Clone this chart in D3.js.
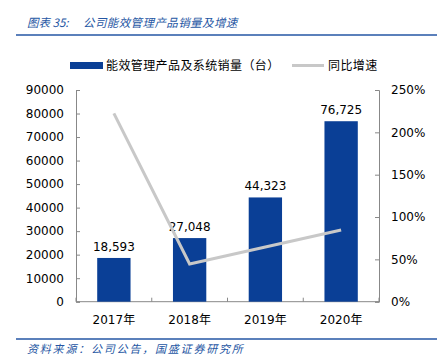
<!DOCTYPE html>
<html>
<head>
<meta charset="utf-8">
<script src="https://cdn.jsdelivr.net/npm/d3@7"></script>
<style>
  body { margin: 0; background: #fff; }
  text { font-family: "DejaVu Sans", "Noto Sans CJK SC", sans-serif; }
</style>
</head>
<body>
<div id="chart"></div>
<script>
const years = ["2017年", "2018年", "2019年", "2020年"];
const sales = [18593, 27048, 44323, 76725];
const growth = [222.4, 44.5, 64.5, 84.7];
const leftTicks = [0, 10000, 20000, 30000, 40000, 50000, 60000, 70000, 80000, 90000];
const rightTicks = [0, 50, 100, 150, 200, 250];

const width = 444, height = 363;
const margin = { top: 90, right: 65, bottom: 62, left: 76 };
const blue = "#0a3f96";
const titleBlue = "#2556a3";
const cjk = '"Noto Sans CJK SC", sans-serif';

const svg = d3.select("#chart").append("svg")
  .attr("width", width)
  .attr("height", height);

// title + rules
const title = svg.append("text")
  .attr("y", 27)
  .style("font-family", cjk)
  .style("font-style", "italic")
  .style("font-size", "11.5px")
  .attr("fill", titleBlue);
title.append("tspan").attr("x", 27).text("图表 35:");
title.append("tspan").attr("x", 83).style("letter-spacing", "0.4px").text("公司能效管理产品销量及增速");

svg.append("line")
  .attr("x1", 16).attr("x2", 437).attr("y1", 35).attr("y2", 35)
  .attr("stroke", "#2456a4").attr("stroke-width", 1.5);

svg.append("line")
  .attr("x1", 16).attr("x2", 437).attr("y1", 339).attr("y2", 339)
  .attr("stroke", "#2456a4").attr("stroke-width", 1.5);

svg.append("text")
  .attr("x", 27).attr("y", 353)
  .style("font-family", cjk)
  .style("font-style", "italic")
  .style("font-size", "11px")
  .style("letter-spacing", "1.8px")
  .attr("fill", titleBlue)
  .text("资料来源：公司公告，国盛证券研究所");

// scales
const x = d3.scaleBand()
  .domain(years)
  .range([margin.left, width - margin.right])
  .paddingInner(0.56)
  .paddingOuter(0.28);

const y = d3.scaleLinear()
  .domain([0, 90000])
  .range([height - margin.bottom + 0.7, margin.top]);

const y2 = d3.scaleLinear()
  .domain([0, 250])
  .range([height - margin.bottom + 0.7, margin.top]);

// axes
const axisColor = "#888";

const gl = svg.append("g")
  .attr("transform", `translate(${margin.left},0)`)
  .call(d3.axisLeft(y).tickValues(leftTicks).tickSize(-4).tickPadding(12).tickFormat(d3.format("d")));

const gr = svg.append("g")
  .attr("transform", `translate(${width - margin.right},0)`)
  .call(d3.axisRight(y2).tickValues(rightTicks).tickSize(-4).tickPadding(12).tickFormat(d => d + "%"));

[gl, gr].forEach(g => {
  g.select(".domain").attr("stroke", axisColor);
  g.selectAll(".tick line").attr("stroke", axisColor);
  g.selectAll("text").style("font-size", "12px").attr("fill", "#000");
});

// bottom axis with boundary ticks
const baseY = y(0);
svg.append("line")
  .attr("x1", margin.left).attr("x2", width - margin.right)
  .attr("y1", baseY).attr("y2", baseY)
  .attr("stroke", axisColor);

const step = x.step();
const bounds = d3.range(years.length + 1).map(i => x(years[0]) - x.paddingOuter() * step + i * step);
svg.selectAll(".xtick")
  .data(bounds)
  .enter().append("line")
  .attr("x1", d => d).attr("x2", d => d)
  .attr("y1", baseY).attr("y2", baseY - 4)
  .attr("stroke", axisColor);

svg.selectAll(".xlabel")
  .data(years)
  .enter().append("text")
  .attr("x", d => x(d) + x.bandwidth() / 2)
  .attr("y", 324)
  .attr("text-anchor", "middle")
  .style("font-size", "12px")
  .attr("fill", "#000")
  .text(d => d);

// bars
svg.selectAll(".bar")
  .data(sales)
  .enter().append("rect")
  .attr("x", (d, i) => x(years[i]))
  .attr("y", d => y(d))
  .attr("width", x.bandwidth())
  .attr("height", d => baseY - y(d))
  .attr("fill", blue);

svg.selectAll(".barlabel")
  .data(sales)
  .enter().append("text")
  .attr("x", (d, i) => x(years[i]) + x.bandwidth() / 2)
  .attr("y", d => y(d) - 7)
  .attr("text-anchor", "middle")
  .style("font-size", "12px")
  .attr("fill", "#000")
  .text(d => d3.format(",")(d));

// growth line
const line = d3.line()
  .x((d, i) => x(years[i]) + x.bandwidth() / 2)
  .y(d => y2(d));

svg.append("path")
  .datum(growth)
  .attr("d", line)
  .attr("fill", "none")
  .attr("stroke", "#c8c8c8")
  .attr("stroke-width", 3);

// legend
const lg = svg.append("g");
lg.append("rect")
  .attr("x", 70).attr("y", 62).attr("width", 33).attr("height", 7)
  .attr("fill", blue);
lg.append("text")
  .attr("x", 106).attr("y", 70)
  .style("font-family", cjk)
  .style("font-size", "12px")
  .style("letter-spacing", "0.4px")
  .attr("fill", "#000")
  .text("能效管理产品及系统销量（台）");
lg.append("line")
  .attr("x1", 292).attr("x2", 324).attr("y1", 65.5).attr("y2", 65.5)
  .attr("stroke", "#c8c8c8").attr("stroke-width", 3);
lg.append("text")
  .attr("x", 328).attr("y", 70)
  .style("font-family", cjk)
  .style("font-size", "12px")
  .style("letter-spacing", "0.4px")
  .attr("fill", "#000")
  .text("同比增速");
</script>
</body>
</html>
